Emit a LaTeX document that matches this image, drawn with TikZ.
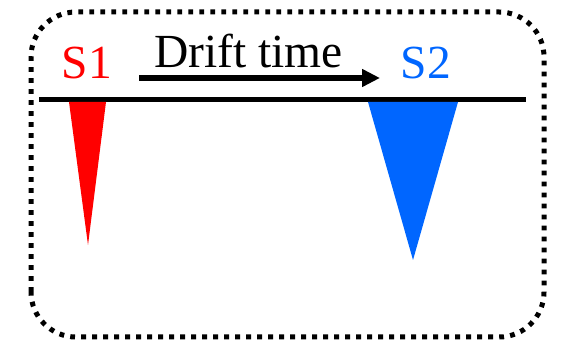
\documentclass[tikz,border=0pt]{standalone}
\usepackage{fontspec}
\setmainfont{Liberation Serif}
\usetikzlibrary{arrows.meta}
\definecolor{sred}{RGB}{255,0,0}
\definecolor{sblue}{RGB}{0,102,255}
\tikzset{
  lbl/.style={anchor=base, inner sep=0pt, font=\fontsize{47.5}{52}\selectfont},
  border/.style={line width=5pt, dash pattern=on 4.8pt off 6.2pt, rounded corners=45pt},
  axis/.style={line width=5pt},
  driftarrow/.style={line width=5.5pt, -{Triangle[length=18pt,width=17pt]}},
}
\begin{document}
\begin{tikzpicture}[x=1pt,y=1pt]
\useasboundingbox (0,0) rectangle (569,344);
% dotted rounded frame
\draw[border] (31,7) rectangle (544,332);
% baseline axis
\coordinate (axL) at (39,244);
\coordinate (axR) at (526,244);
\draw[axis] (axL) -- (axR);
% peaks
\coordinate (r1) at (69,242);
\coordinate (r2) at (106,242);
\coordinate (rt) at (88,99);
\fill[sred] (r1) -- (r2) -- (rt) -- cycle;
\coordinate (b1) at (368,242);
\coordinate (b2) at (458,242);
\coordinate (bt) at (413,84);
\fill[sblue] (b1) -- (b2) -- (bt) -- cycle;
% labels
\node[lbl, text=sred] (s1) at (87,265) {S1};
\node[lbl, text=sblue] (s2) at (426,265) {S2};
\node[lbl] (drift) at (248.5,276) {Drift time};
% arrow
\coordinate (aS) at (139,266);
\coordinate (aE) at (380,266);
\draw[driftarrow] (aS) -- (aE);
\end{tikzpicture}
\end{document}
